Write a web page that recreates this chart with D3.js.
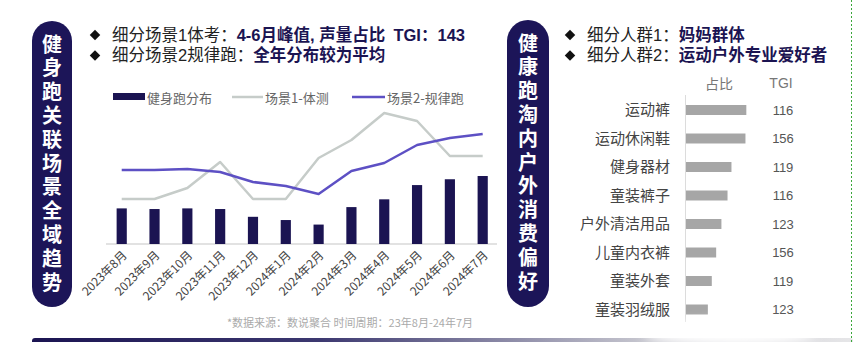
<!DOCTYPE html>
<html>
<head>
<meta charset="utf-8">
<script src="https://cdn.jsdelivr.net/npm/d3@7"></script>
<style>
  html, body { margin: 0; padding: 0; background: #fff; }
  svg { display: block; font-family: "Noto Sans CJK SC", "Noto Sans", sans-serif; }
</style>
</head>
<body>
<svg id="chart" width="853" height="342"></svg>
<script>
// ---- Trend panel data ----
const months = ["2023年8月", "2023年9月", "2023年10月", "2023年11月", "2023年12月", "2024年1月",
                "2024年2月", "2024年3月", "2024年4月", "2024年5月", "2024年6月", "2024年7月"];
const runShare = [5.5, 5.4, 5.5, 5.4, 4.2, 3.7, 3.0, 5.7, 6.9, 9.1, 10.0, 10.5];   // 健身跑分布
const scene1 = [45, 45, 56, 82, 45, 45, 86, 104, 131, 123, 88, 88];               // 场景1-体测
const scene2 = [74, 74, 75, 72, 62, 58, 50, 73, 81, 99, 106, 110];                // 场景2-规律跑
const seriesNames = ["健身跑分布", "场景1-体测", "场景2-规律跑"];

// ---- Preference panel data ----
const categories = ["运动裤", "运动休闲鞋", "健身器材", "童装裤子", "户外清洁用品", "儿童内衣裤", "童装外套", "童装羽绒服"];
const shares = [13.8, 13.6, 10.4, 9.5, 8.1, 6.9, 5.9, 5.0];
const tgi = [116, 156, 119, 116, 123, 156, 119, 123];
const headers = ["占比", "TGI"];

const NAVY = "#1b1452";
const PILL = "#1c1558";
const GRAY_LINE = "#c6ccc9";
const PURPLE = "#5d50c4";
const CJK = "'Noto Sans CJK SC', sans-serif";
// Latin-first stack keeps the headline line boxes compact; Chinese falls through to Noto CJK
const HEAD = "'Liberation Sans', 'Noto Sans CJK SC', sans-serif";

const svg = d3.select("#chart");

// ---- Vertical section pills ----
function pill(x, y, w, h, text) {
  svg.append("rect").attr("x", x).attr("y", y).attr("width", w).attr("height", h)
    .attr("rx", w / 2).attr("fill", PILL);
  svg.append("text")
    .attr("x", x + w / 2).attr("y", y + 13)
    .style("writing-mode", "vertical-rl")
    .style("text-orientation", "upright")
    .style("letter-spacing", "3.8px")
    .attr("fill", "#fff").attr("font-size", 20).attr("font-weight", 700)
    .attr("font-family", CJK).text(text);
}
pill(32, 21, 40, 286, "健身跑关联场景全域趋势");
pill(507, 20, 42, 287, "健康跑淘内户外消费偏好");

// ---- Headline bullets ----
function bullet(x, y, plain, bold) {
  svg.append("path").attr("d", d3.symbol(d3.symbolDiamond2, 70)())
    .attr("transform", `translate(${x},${y})`).attr("fill", "#111");
  const t = svg.append("text").attr("x", x + 17).attr("y", y).attr("dy", "0.36em")
    .attr("font-size", 16.5).attr("font-family", HEAD);
  t.append("tspan").attr("fill", "#222").text(plain);
  t.append("tspan").attr("fill", NAVY).attr("font-weight", 700).text(bold);
}
bullet(95, 35, "细分场景1体考：", "4-6月峰值, 声量占比\u2002TGI：143");
bullet(95, 55.5, "细分场景2规律跑：", "全年分布较为平均");
bullet(570, 35, "细分人群1：", "妈妈群体");
bullet(570, 55.5, "细分人群2：", "运动户外专业爱好者");

// ---- Trend chart ----
const base = 244;
const x = d3.scaleBand().domain(months).range([105.3, 499.1]).paddingInner(0.69).paddingOuter(0.345);
const yBar = d3.scaleLinear().domain([0, 12]).range([base, base - 77.7]);
const yLine = d3.scaleLinear().domain([0, 140]).range([base, base - 140]);

svg.append("line").attr("x1", 106).attr("x2", 497).attr("y1", base).attr("y2", base)
  .attr("stroke", "#d9d9d9").attr("stroke-width", 1.5);

svg.append("g").selectAll("rect").data(runShare).join("rect")
  .attr("x", (d, i) => x(months[i])).attr("width", x.bandwidth())
  .attr("y", d => yBar(d)).attr("height", d => base - yBar(d))
  .attr("fill", NAVY);

const cx = (d, i) => x(months[i]) + x.bandwidth() / 2;
const line1 = d3.line().x(cx).y(d => yLine(d));
svg.append("path").datum(scene1).attr("d", line1).attr("fill", "none")
  .attr("stroke", GRAY_LINE).attr("stroke-width", 2.5).attr("stroke-linejoin", "round");
svg.append("path").datum(scene2).attr("d", line1).attr("fill", "none")
  .attr("stroke", PURPLE).attr("stroke-width", 2.5).attr("stroke-linejoin", "round");

const xAxis = svg.append("g").attr("transform", `translate(0,${base})`)
  .call(d3.axisBottom(x).tickSize(0));
xAxis.select(".domain").remove();
xAxis.selectAll("text")
  .attr("x", 0).attr("y", 0).attr("dy", "0.35em")
  .attr("transform", "translate(3,9) rotate(-45)")
  .attr("text-anchor", "end").attr("fill", "#444")
  .attr("font-size", 12).attr("font-family", CJK);

// Legend
const lg = svg.append("g").attr("font-size", 13).attr("font-family", CJK).attr("fill", "#666");
lg.append("rect").attr("x", 113).attr("y", 93).attr("width", 32).attr("height", 7).attr("fill", NAVY);
lg.append("text").attr("x", 147).attr("y", 97).attr("dominant-baseline", "central").text(seriesNames[0]);
lg.append("line").attr("x1", 232).attr("x2", 263).attr("y1", 97).attr("y2", 97)
  .attr("stroke", GRAY_LINE).attr("stroke-width", 2.5);
lg.append("text").attr("x", 265).attr("y", 97).attr("dominant-baseline", "central").text(seriesNames[1]);
lg.append("line").attr("x1", 352).attr("x2", 385).attr("y1", 97).attr("y2", 97)
  .attr("stroke", PURPLE).attr("stroke-width", 2.5);
lg.append("text").attr("x", 387).attr("y", 97).attr("dominant-baseline", "central").text(seriesNames[2]);

// Source note
svg.append("text").attr("x", 350).attr("y", 322).attr("text-anchor", "middle")
  .attr("dominant-baseline", "central").attr("font-size", 11).attr("fill", "#aaa")
  .attr("font-family", CJK).text("*数据来源：数说聚合 时间周期：23年8月-24年7月");

// ---- Preference bars ----
const yCat = d3.scaleBand().domain(categories).range([95.75, 323.75]).paddingInner(0.65).paddingOuter(0.325);
const xShare = d3.scaleLinear().domain([0, 14]).range([686, 747.2]);

svg.append("line").attr("x1", 685.5).attr("x2", 685.5).attr("y1", 95).attr("y2", 322)
  .attr("stroke", "#dcdcdc").attr("stroke-width", 1);

svg.append("g").selectAll("rect").data(shares).join("rect")
  .attr("x", xShare(0)).attr("y", (d, i) => yCat(categories[i]))
  .attr("width", d => xShare(d) - xShare(0)).attr("height", yCat.bandwidth())
  .attr("fill", "#a6a6a6");

const yAxis = svg.append("g").attr("transform", "translate(670,0)")
  .call(d3.axisLeft(yCat).tickSize(0).tickPadding(0));
yAxis.select(".domain").remove();
yAxis.selectAll("text").attr("fill", "#444").attr("font-size", 15).attr("font-family", CJK)
  .attr("x", 0).attr("dy", "0.35em").attr("text-anchor", "end");

svg.append("g").selectAll("text").data(tgi).join("text")
  .attr("x", 783).attr("y", (d, i) => yCat(categories[i]) + yCat.bandwidth() / 2)
  .attr("dy", "0.35em").attr("text-anchor", "middle")
  .attr("font-size", 13).attr("font-family", "'Liberation Sans', Arial, sans-serif")
  .attr("fill", "#555").text(d => d);

svg.append("text").attr("x", 719).attr("y", 83).attr("text-anchor", "middle")
  .attr("dominant-baseline", "central").attr("font-size", 14).attr("fill", "#777")
  .attr("font-family", CJK).text(headers[0]);
svg.append("text").attr("x", 781).attr("y", 83).attr("text-anchor", "middle")
  .attr("dominant-baseline", "central").attr("font-size", 14).attr("fill", "#777")
  .attr("font-family", "'Liberation Sans', Arial, sans-serif").text(headers[1]);

// ---- Footer band ----
const defs = svg.append("defs");
const grad = defs.append("linearGradient").attr("id", "band");
grad.append("stop").attr("offset", "0%").attr("stop-color", NAVY);
grad.append("stop").attr("offset", "35%").attr("stop-color", "#3c3870");
grad.append("stop").attr("offset", "75%").attr("stop-color", "#c8c8d0");
grad.append("stop").attr("offset", "100%").attr("stop-color", "#e6e6e8");
svg.append("rect").attr("x", 32).attr("y", 338).attr("width", 821).attr("height", 6)
  .attr("rx", 3).attr("fill", "url(#band)");

const haze = defs.append("filter").attr("id", "haze").attr("x", "-50%").attr("y", "-50%")
  .attr("width", "200%").attr("height", "200%");
haze.append("feGaussianBlur").attr("stdDeviation", 6);
svg.append("ellipse").attr("cx", 730).attr("cy", 334).attr("rx", 85).attr("ry", 12)
  .attr("fill", "#fff").attr("filter", "url(#haze)");

// Frame edge
svg.append("line").attr("x1", 851.5).attr("x2", 851.5).attr("y1", 0).attr("y2", 342)
  .attr("stroke", "#3aa63a").attr("stroke-width", 1).attr("stroke-dasharray", "2,2");
</script>
</body>
</html>
